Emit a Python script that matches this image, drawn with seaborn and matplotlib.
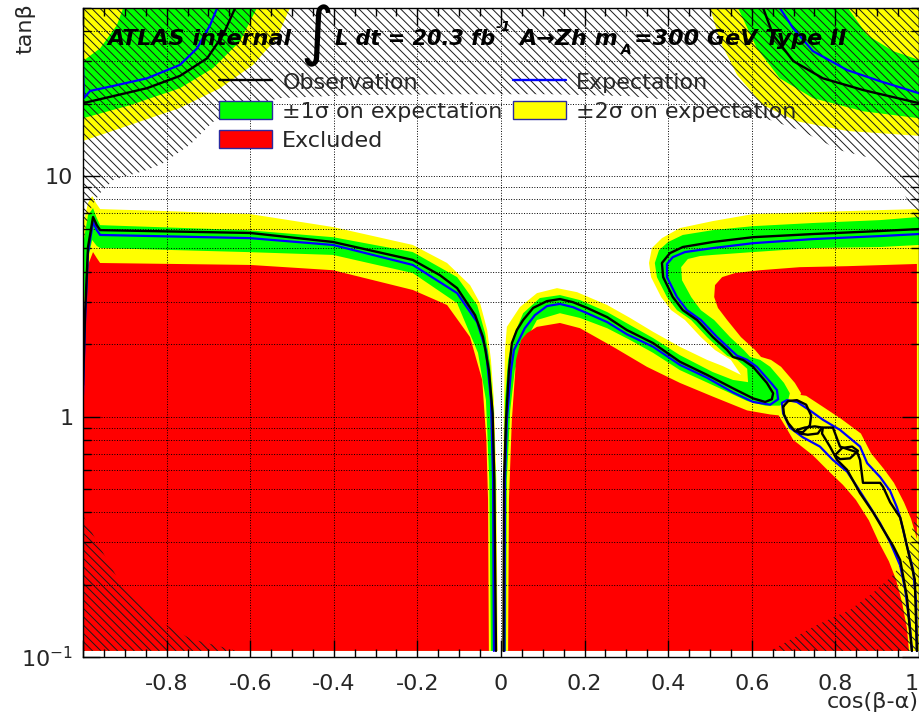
import matplotlib
matplotlib.use("Agg")
import matplotlib.pyplot as plt
from matplotlib.lines import Line2D
from matplotlib.patches import Patch
from matplotlib.ticker import FixedLocator, FixedFormatter, MultipleLocator, LogLocator, NullFormatter
import seaborn as sns

# ------------------------------------------------------------------
# Exclusion contours in the (cos(beta-alpha), tan(beta)) plane
# p2 = +2 sigma, p1 = +1 sigma, m1 = -1 sigma boundaries of the expected
# limit, obs = observed, exp = expected, excl = excluded region edge
# ------------------------------------------------------------------

# left lobe, cos(beta-alpha) < 0, from the left edge down to the bottom edge
p2_left_x = [-1.0, -0.988, -0.978, -0.969, -0.959, -0.799, -0.600, -0.402, -0.211, -0.129, -0.074, -0.050, -0.033, -0.024, -0.017, -0.011, -0.008]
p2_left_y = [6.25, 7.73, 8.26, 7.73, 7.29, 7.15, 6.95, 6.14, 5.17, 4.35, 3.52, 2.96, 2.29, 1.72, 1.17, 0.545, 0.106]
p1_left_x = [-1.0, -0.988, -0.976, -0.967, -0.959, -0.608, -0.402, -0.211, -0.105, -0.057, -0.038, -0.026, -0.018, -0.013, -0.011]
p1_left_y = [5.17, 6.88, 7.36, 6.69, 6.25, 5.96, 5.57, 4.83, 3.80, 2.91, 2.22, 1.64, 1.06, 0.545, 0.106]
m1_left_x = [-1.0, -0.990, -0.978, -0.967, -0.959, -0.608, -0.402, -0.211, -0.105, -0.055, -0.036, -0.028, -0.024]
m1_left_y = [2.52, 4.39, 5.42, 5.12, 5.02, 4.83, 4.70, 3.95, 2.96, 1.84, 1.17, 0.545, 0.106]
excl_left_x = [-1.0, -0.988, -0.976, -0.967, -0.959, -0.600, -0.402, -0.211, -0.129, -0.074, -0.045, -0.035, -0.031, -0.029]
excl_left_y = [2.29, 4.27, 4.83, 4.56, 4.35, 4.27, 4.06, 3.36, 2.91, 2.14, 1.42, 0.80, 0.45, 0.106]
obs_left_x = [-1.0, -0.995, -0.988, -0.976, -0.967, -0.959, -0.600, -0.402, -0.211, -0.146, -0.105, -0.062, -0.043, -0.029, -0.020, -0.016, -0.012]
obs_left_y = [1.35, 2.69, 5.07, 6.76, 6.25, 5.96, 5.80, 5.32, 4.48, 3.87, 3.42, 2.64, 2.14, 1.56, 1.03, 0.545, 0.106]
exp_left_x = [-1.0, -0.995, -0.988, -0.976, -0.967, -0.959, -0.600, -0.402, -0.211, -0.105, -0.057, -0.036, -0.024, -0.019, -0.017]
exp_left_y = [1.23, 2.52, 4.83, 6.44, 5.96, 5.69, 5.52, 5.17, 4.27, 3.26, 2.47, 1.89, 1.17, 0.545, 0.106]

# central lobe + hook, from the bottom edge to the right edge
p2_right_x = [0.0036, 0.0048, 0.0072, 0.0096, 0.014, 0.045, 0.086, 0.134, 0.182, 0.254, 0.309, 0.364, 0.428, 0.493, 0.531, 0.574, 0.550, 0.512, 0.478, 0.440, 0.407, 0.383, 0.359, 0.354, 0.361, 0.385, 0.428, 0.507, 0.603, 0.746, 0.907, 1.0]
p2_right_y = [0.106, 0.545, 1.17, 1.89, 2.36, 2.85, 3.26, 3.42, 3.29, 2.91, 2.57, 2.25, 1.95, 1.72, 1.62, 1.49, 1.72, 1.89, 2.14, 2.52, 2.77, 3.14, 3.80, 4.35, 5.02, 5.52, 6.08, 6.50, 6.95, 7.08, 7.22, 7.29]
p1_right_x = [0.0048, 0.006, 0.0096, 0.017, 0.029, 0.053, 0.093, 0.141, 0.189, 0.254, 0.309, 0.364, 0.428, 0.507, 0.555, 0.591, 0.589, 0.565, 0.541, 0.526, 0.493, 0.455, 0.421, 0.397, 0.373, 0.368, 0.378, 0.400, 0.435, 0.507, 0.603, 0.746, 0.907, 1.0]
p1_right_y = [0.106, 0.545, 1.17, 1.72, 2.14, 2.69, 3.11, 3.20, 3.05, 2.72, 2.40, 2.12, 1.80, 1.53, 1.42, 1.39, 1.58, 1.72, 1.79, 1.89, 2.14, 2.52, 2.77, 3.14, 3.80, 4.35, 4.92, 5.32, 5.69, 5.96, 6.19, 6.38, 6.56, 6.76]
m1_right_x = [0.012, 0.014, 0.022, 0.033, 0.053, 0.086, 0.141, 0.189, 0.254, 0.309, 0.364, 0.428, 0.507, 0.589, 0.632, 0.667, 0.687, 0.691, 0.677, 0.644, 0.620, 0.596, 0.581, 0.548, 0.510, 0.478, 0.455, 0.433, 0.431, 0.447, 0.476, 0.507, 0.603, 0.746, 0.907, 1.0]
m1_right_y = [0.106, 0.545, 1.06, 1.56, 1.98, 2.52, 2.69, 2.57, 2.33, 2.08, 1.84, 1.56, 1.35, 1.16, 1.11, 1.11, 1.17, 1.25, 1.38, 1.61, 1.72, 1.77, 1.89, 2.14, 2.52, 2.77, 3.14, 3.69, 4.18, 4.52, 4.65, 4.70, 4.83, 5.02, 5.07, 5.17]
excl_right_x = [0.017, 0.019, 0.026, 0.036, 0.048, 0.062, 0.086, 0.141, 0.189, 0.268, 0.349, 0.428, 0.507, 0.589, 0.644, 0.679, 0.708, 0.718, 0.703, 0.670, 0.646, 0.622, 0.608, 0.574, 0.541, 0.519, 0.510, 0.512, 0.529, 0.560, 0.620, 0.715, 0.828, 0.995, 0.995]
excl_right_y = [0.106, 0.45, 0.97, 1.72, 2.08, 2.22, 2.36, 2.45, 2.33, 1.95, 1.61, 1.38, 1.21, 1.06, 1.02, 1.005, 1.12, 1.25, 1.38, 1.61, 1.72, 1.77, 1.89, 2.14, 2.52, 2.83, 3.14, 3.52, 3.80, 3.95, 4.06, 4.18, 4.22, 4.31, 0.106]
obs_right_x = [0.006, 0.0072, 0.012, 0.019, 0.026, 0.038, 0.053, 0.077, 0.110, 0.141, 0.172, 0.206, 0.254, 0.301, 0.364, 0.428, 0.493, 0.555, 0.603, 0.632, 0.648, 0.651, 0.636, 0.603, 0.579, 0.555, 0.541, 0.507, 0.469, 0.435, 0.411, 0.388, 0.385, 0.404, 0.435, 0.507, 0.603, 0.746, 0.907, 1.0]
obs_right_y = [0.106, 0.545, 0.97, 1.56, 2.02, 2.29, 2.52, 2.83, 3.02, 3.08, 2.99, 2.83, 2.59, 2.29, 2.02, 1.69, 1.49, 1.31, 1.19, 1.15, 1.18, 1.25, 1.38, 1.61, 1.72, 1.77, 1.89, 2.14, 2.52, 2.77, 3.14, 3.80, 4.35, 4.78, 5.07, 5.32, 5.57, 5.74, 5.91, 6.02]
exp_right_x = [0.0084, 0.0096, 0.014, 0.024, 0.031, 0.057, 0.081, 0.110, 0.141, 0.172, 0.206, 0.254, 0.301, 0.364, 0.428, 0.493, 0.555, 0.603, 0.644, 0.663, 0.660, 0.646, 0.612, 0.589, 0.565, 0.550, 0.517, 0.478, 0.445, 0.421, 0.397, 0.397, 0.411, 0.440, 0.507, 0.603, 0.746, 0.907, 1.0]
exp_right_y = [0.106, 0.545, 0.97, 1.56, 1.89, 2.33, 2.64, 2.88, 2.94, 2.85, 2.69, 2.47, 2.20, 1.95, 1.64, 1.45, 1.26, 1.15, 1.12, 1.18, 1.29, 1.38, 1.61, 1.72, 1.79, 1.89, 2.14, 2.52, 2.77, 3.14, 3.80, 4.31, 4.60, 4.83, 5.02, 5.26, 5.47, 5.63, 5.74]

# top-left corner, from the left edge to the top edge
p2_tl_x = [-1.0, -0.888, -0.768, -0.672, -0.593, -0.536, -0.505]
p2_tl_y = [14.0, 16.3, 19.2, 23.2, 29.0, 37.5, 50.0]
p1_tl_x = [-1.0, -0.888, -0.768, -0.689, -0.624, -0.584]
p1_tl_y = [17.4, 19.7, 23.2, 28.1, 36.4, 50.0]
m1_tl_x = [-1.0, -0.959, -0.919, -0.904]
m1_tl_y = [30.1, 34.0, 42.4, 50.0]
obs_tl_x = [-1.0, -0.928, -0.847, -0.768, -0.703, -0.665, -0.636]
obs_tl_y = [20.1, 21.5, 23.2, 26.1, 30.9, 38.6, 50.0]
exp_tl_x = [-1.0, -0.998, -0.983, -0.928, -0.847, -0.768, -0.727, -0.696, -0.679]
exp_tl_y = [29.8, 21.1, 22.6, 23.7, 25.5, 29.0, 34.0, 42.4, 50.0]

# top-right corner, from the top edge to the right edge
p2_tr_x = [0.500, 0.524, 0.565, 0.627, 0.708, 0.828, 1.0]
p2_tr_y = [50.0, 36.4, 26.3, 19.7, 16.9, 15.4, 14.7]
p1_tr_x = [0.567, 0.612, 0.667, 0.746, 0.866, 1.0]
p1_tr_y = [50.0, 34.0, 25.5, 21.1, 18.6, 17.4]
m1_tr_x = [0.830, 0.876, 0.938, 1.0]
m1_tr_y = [50.0, 38.6, 33.1, 30.4]
obs_tr_x = [0.627, 0.651, 0.699, 0.770, 0.866, 1.0]
obs_tr_y = [50.0, 38.6, 30.1, 25.5, 22.8, 20.1]
exp_tr_x = [0.667, 0.699, 0.746, 0.828, 0.907, 1.0]
exp_tr_y = [50.0, 41.2, 33.1, 27.6, 24.8, 22.1]

# narrow allowed channel near cos(beta-alpha) -> 1
channel_x = [0.663, 0.682, 0.699, 0.746, 0.785, 0.818, 0.849, 0.880, 0.904, 0.928, 0.945, 0.959, 0.971, 0.976, 1.0, 1.0, 0.995, 0.981, 0.964, 0.940, 0.916, 0.885, 0.861, 0.813, 0.766, 0.730, 0.701]
channel_y = [1.02, 0.90, 0.80, 0.69, 0.59, 0.52, 0.45, 0.37, 0.30, 0.25, 0.21, 0.17, 0.132, 0.106, 0.106, 0.27, 0.31, 0.375, 0.44, 0.53, 0.605, 0.705, 0.85, 0.98, 1.11, 1.22, 1.24]
exp_channel_x = [0.983, 0.978, 0.967, 0.955, 0.931, 0.907, 0.883, 0.852, 0.828, 0.794, 0.763, 0.722, 0.691, 0.675, 0.672, 0.684, 0.708, 0.739, 0.770, 0.811, 0.859, 0.876, 0.907, 0.931, 0.947, 0.955, 0.971, 0.986, 0.993, 0.995]
exp_channel_y = [0.106, 0.136, 0.19, 0.24, 0.30, 0.36, 0.42, 0.51, 0.59, 0.66, 0.75, 0.82, 0.90, 1.03, 1.14, 1.17, 1.15, 1.06, 0.97, 0.88, 0.75, 0.64, 0.56, 0.49, 0.42, 0.38, 0.29, 0.23, 0.17, 0.106]
obs_channel_x = [0.983, 0.971, 0.955, 0.938, 0.914, 0.890, 0.859, 0.828, 0.804, 0.787, 0.768, 0.770, 0.794, 0.811, 0.852, 0.859, 0.866, 0.907, 0.914, 0.931, 0.955, 0.962, 0.971, 0.990, 0.995]
obs_channel_y = [0.106, 0.178, 0.253, 0.29, 0.34, 0.40, 0.48, 0.60, 0.66, 0.75, 0.85, 0.90, 0.90, 0.75, 0.71, 0.66, 0.53, 0.53, 0.51, 0.44, 0.38, 0.34, 0.29, 0.21, 0.106]
obs_island1_x = [0.675, 0.687, 0.708, 0.730, 0.742, 0.739, 0.722, 0.703, 0.687, 0.677, 0.675]
obs_island1_y = [1.10, 1.16, 1.17, 1.12, 1.01, 0.92, 0.86, 0.87, 0.94, 1.02, 1.10]
obs_island2_x = [0.708, 0.727, 0.751, 0.768, 0.758, 0.734, 0.715, 0.708]
obs_island2_y = [0.88, 0.90, 0.91, 0.90, 0.85, 0.84, 0.85, 0.88]
obs_island3_x = [0.799, 0.816, 0.840, 0.854, 0.835, 0.811, 0.799]
obs_island3_y = [0.69, 0.74, 0.75, 0.72, 0.67, 0.665, 0.69]

# theoretically inaccessible regions (hatched)
hatch_top_x = [-1.0, -0.993, -0.978, -0.959, -0.928, -0.847, -0.809, -0.744, -0.689, -0.624, -0.529, -0.361, -0.122, 0.117, 0.309, 0.428, 0.524, 0.644, 0.715, 0.811, 0.883, 0.931, 0.967, 1.0]
hatch_top_y = [5.07, 6.25, 7.57, 8.50, 9.62, 10.6, 11.3, 13.5, 16.8, 19.2, 21.1, 21.7, 21.9, 21.9, 21.5, 20.5, 18.5, 17.1, 15.5, 12.8, 11.9, 10.1, 8.3, 6.25]
hatch_bl_x = [-1.0, -0.969, -0.911, -0.816, -0.742, -0.632]
hatch_bl_y = [0.389, 0.306, 0.203, 0.140, 0.119, 0.106]
hatch_br_x = [0.644, 0.756, 0.835, 0.890, 0.938, 0.971, 0.986, 1.0]
hatch_br_y = [0.106, 0.136, 0.157, 0.185, 0.219, 0.265, 0.354, 0.408]

# axis ticks
x_major = [-1.0, -0.8, -0.6, -0.4, -0.2, 0.0, 0.2, 0.4, 0.6, 0.8, 1.0]
x_labels = ["", "-0.8", "-0.6", "-0.4", "-0.2", "0", "0.2", "0.4", "0.6", "0.8", "1"]
y_major = [0.1, 1.0, 10.0]
y_labels = [r"$10^{-1}$", "1", "10"]

X_MIN, X_MAX = -1.0, 1.0
TB_MIN, TB_MAX = 0.1, 50.0
TB_FLOOR = 0.106  # lowest tan(beta) of the scan grid

YELLOW = "#ffff00"
GREEN = "#00ff00"
RED = "#ff0000"
BLUE = "#0000ff"
BACKSLASH = chr(92)

sns.set_style("ticks")
plt.rcParams["font.family"] = ["DejaVu Sans"]
plt.rcParams["axes.unicode_minus"] = False
plt.rcParams["hatch.linewidth"] = 0.7
plt.rcParams["mathtext.fontset"] = "dejavusans"

W, H = 920, 717
fig = plt.figure(figsize=(W / 100, H / 100), dpi=100)
ax = fig.add_axes([83 / W, 60 / H, 836 / W, 649 / H])
ax.set_yscale("log")
ax.set_xlim(X_MIN, X_MAX)
ax.set_ylim(TB_MIN, TB_MAX)
ax.set_facecolor("white")


def fill(xs, ys, extra, color, z):
    px = list(xs) + [p[0] for p in extra]
    py = list(ys) + [p[1] for p in extra]
    ax.fill(px, py, color=color, lw=0, zorder=z)


LEVELS = {
    "p2": {"left": (p2_left_x, p2_left_y), "right": (p2_right_x, p2_right_y),
           "tl": (p2_tl_x, p2_tl_y), "tr": (p2_tr_x, p2_tr_y)},
    "p1": {"left": (p1_left_x, p1_left_y), "right": (p1_right_x, p1_right_y),
           "tl": (p1_tl_x, p1_tl_y), "tr": (p1_tr_x, p1_tr_y)},
    "m1": {"left": (m1_left_x, m1_left_y), "right": (m1_right_x, m1_right_y),
           "tl": (m1_tl_x, m1_tl_y), "tr": (m1_tr_x, m1_tr_y)},
    "excl": {"left": (excl_left_x, excl_left_y), "right": (excl_right_x, excl_right_y)},
}


def fill_level(tag, color, z):
    lx, ly = LEVELS[tag]["left"]
    rx, ry = LEVELS[tag]["right"]
    fill(lx, ly, [(X_MIN, TB_FLOOR)], color, z)
    fill(rx, ry, [] if tag == "excl" else [(X_MAX, TB_FLOOR)], color, z)
    if "tl" in LEVELS[tag]:
        tx, ty = LEVELS[tag]["tl"]
        fill(tx, ty, [(X_MIN, TB_MAX)], color, z)
        sx, sy = LEVELS[tag]["tr"]
        fill(sx, sy, [(X_MAX, TB_MAX)], color, z)


# nested bands: +2 sigma (yellow), +1 sigma (green), -1 sigma (yellow), excluded (red)
fill_level("p2", YELLOW, 1.0)
fill_level("p1", GREEN, 1.1)
fill_level("m1", YELLOW, 1.2)
fill_level("excl", RED, 1.3)
ax.fill(channel_x, channel_y, color=YELLOW, lw=0, zorder=1.4)

# hatched theory regions
hatch_kw = dict(facecolor="none", edgecolor="#1a1a1a", lw=0, hatch=BACKSLASH * 4, zorder=1.6)
ax.fill(hatch_top_x + [X_MAX, X_MIN], hatch_top_y + [TB_MAX, TB_MAX], **hatch_kw)
ax.fill(hatch_bl_x + [X_MIN], hatch_bl_y + [TB_FLOOR], **hatch_kw)
ax.fill(hatch_br_x + [X_MAX], hatch_br_y + [TB_FLOOR], **hatch_kw)

# contour lines
obs_lines = [(obs_left_x, obs_left_y), (obs_right_x, obs_right_y), (obs_tl_x, obs_tl_y),
             (obs_tr_x, obs_tr_y), (obs_channel_x, obs_channel_y),
             (obs_island1_x, obs_island1_y), (obs_island2_x, obs_island2_y),
             (obs_island3_x, obs_island3_y)]
exp_lines = [(exp_left_x, exp_left_y), (exp_right_x, exp_right_y), (exp_tl_x, exp_tl_y),
             (exp_tr_x, exp_tr_y), (exp_channel_x, exp_channel_y)]
for xs, ys in exp_lines:
    sns.lineplot(x=xs, y=ys, sort=False, estimator=None, color=BLUE, linewidth=1.6,
                 ax=ax, zorder=3)
for xs, ys in obs_lines:
    sns.lineplot(x=xs, y=ys, sort=False, estimator=None, color="black", linewidth=1.7,
                 ax=ax, zorder=3.1)

# axes, ticks and grid in ROOT style
ax.xaxis.set_major_locator(FixedLocator(x_major))
ax.xaxis.set_major_formatter(FixedFormatter(x_labels))
ax.xaxis.set_minor_locator(MultipleLocator(0.05))
ax.yaxis.set_major_locator(FixedLocator(y_major))
ax.yaxis.set_major_formatter(FixedFormatter(y_labels))
ax.yaxis.set_minor_locator(LogLocator(base=10, subs=range(2, 10)))
ax.yaxis.set_minor_formatter(NullFormatter())
ax.set_axisbelow(False)
ax.grid(True, which="major", axis="x", linestyle=":", color="black", linewidth=0.7)
ax.grid(True, which="both", axis="y", linestyle=":", color="black", linewidth=0.7)
ax.tick_params(which="both", direction="in", top=True, right=True, width=1.0, color="black")
ax.tick_params(which="major", length=12)
ax.tick_params(which="minor", length=6)
ax.tick_params(axis="x", labelsize=16, pad=12)
ax.tick_params(axis="y", labelsize=16, pad=7)
for s in ax.spines.values():
    s.set_linewidth(1.0)
    s.set_color("black")
    s.set_zorder(4)

fig.canvas.draw()
ax.get_xticklabels()[-1].set_horizontalalignment("right")

ax.set_xlabel("cos(β-α)", fontsize=16, loc="right")
ax.xaxis.set_label_coords(1.0, -0.054)
ax.set_ylabel("tanβ", fontsize=16, loc="top")
ax.yaxis.set_label_coords(-0.057, 1.008)

# legend
handles = [
    Line2D([], [], color="black", lw=1.7),
    Patch(facecolor=GREEN, edgecolor="#2a2aa0", lw=1.0),
    Patch(facecolor=RED, edgecolor="#2a2aa0", lw=1.0),
    Line2D([], [], color=BLUE, lw=1.7),
    Patch(facecolor=YELLOW, edgecolor="#2a2aa0", lw=1.0),
]
labels = ["Observation", "±1σ on expectation", "Excluded", "Expectation", "±2σ on expectation"]
leg = ax.legend(handles, labels, ncol=2, loc="upper left",
                bbox_to_anchor=(219 / W, 1 - 72 / H), bbox_transform=fig.transFigure,
                frameon=False, fontsize=16, handlelength=2.4, handleheight=0.9,
                handletextpad=0.45, columnspacing=0.45, labelspacing=0.36,
                borderpad=0, borderaxespad=0)
leg.set_zorder(5)


def ftext(px, py, s, **kw):
    fig.text(px / W, 1 - py / H, s, va="baseline", ha="left", zorder=6, **kw)


bi = dict(fontweight="bold", fontstyle="italic", color="black")
ftext(107, 45, "ATLAS internal", fontsize=16, **bi)
ftext(300, 53, "∫", fontsize=46, color="black")
ftext(335, 45, "L dt = 20.3 fb", fontsize=15, **bi)
ftext(496, 31, "-1", fontsize=10, **bi)
ftext(519, 45, "A→Zh m", fontsize=16, **bi)
ftext(621, 54, "A", fontsize=10, **bi)
ftext(634, 45, "=300 GeV Type II", fontsize=16, **bi)

fig.savefig("out.png", dpi=100)
